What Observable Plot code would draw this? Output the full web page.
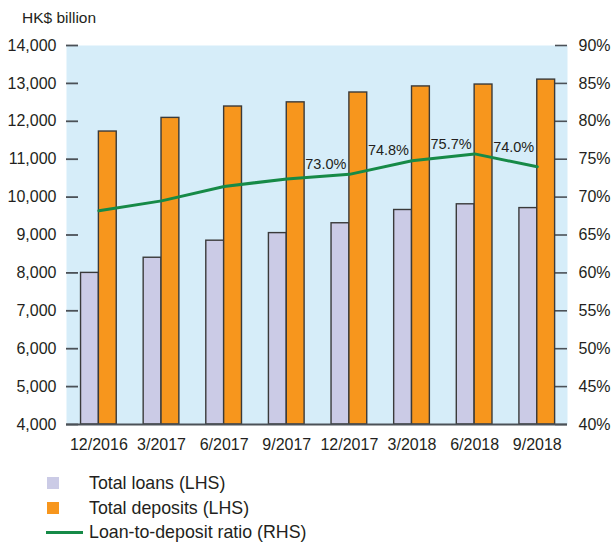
<!DOCTYPE html>
<html><head><meta charset="utf-8">
<script src="https://cdn.jsdelivr.net/npm/d3@7"></script>
<script src="https://cdn.jsdelivr.net/npm/@observablehq/plot@0.6"></script>
<style>
body{margin:0;background:#fff;font-family:"Liberation Sans",Arial,sans-serif;color:#231f20;width:614px;height:542px;position:relative;overflow:hidden}
#title{position:absolute;left:22px;top:8px;font-size:15.5px;line-height:20px}
#chart{position:absolute;left:0;top:30px}
.leg{position:absolute;left:89px;font-size:17.8px;line-height:20px}
.sw{position:absolute;left:47px;width:12px;height:12px}
.ln{position:absolute;left:46px;width:37px;height:3px}
</style></head>
<body>
<div id="title">HK$ billion</div>
<div id="chart"></div>
<div id="legend"></div>
<script>
const dates = ["12/2016","3/2017","6/2017","9/2017","12/2017","3/2018","6/2018","9/2018"];
const loans = [8000, 8400, 8850, 9050, 9310, 9660, 9810, 9710];
const deposits = [11730, 12090, 12390, 12500, 12760, 12920, 12970, 13100];
const ratio = [68.2, 69.5, 71.4, 72.4, 73.0, 74.8, 75.7, 74.0];
const ratioLabels = ["", "", "", "", "73.0%", "74.8%", "75.7%", "74.0%"];
const leftTicks = [4000,5000,6000,7000,8000,9000,10000,11000,12000,13000,14000];
const rightTickLabels = ["40%","45%","50%","55%","60%","65%","70%","75%","80%","85%","90%"];
const seriesNames = ["Total loans (LHS)","Total deposits (LHS)","Loan-to-deposit ratio (RHS)"];

const colors = {bg:"#d6edf9", loans:"#cbcbe6", deposits:"#f7961d", line:"#168a47", axis:"#4b5157"};
const rows = dates.map((d,i)=>({date:d, loans:loans[i], deposits:deposits[i], ratio:ratio[i], label:ratioLabels[i]}));
const toLeft = r => 4000 + (r - 40) * 200;

const W = 614, H = 430, mL = 66, mR = 47, mT = 15, mB = 36;
const innerW = W - mL - mR;
const tick = 12;
const pIn = 0.43, pOut = 0.215;
const step = innerW / (dates.length - pIn + 2 * pOut);
const bw = step * (1 - pIn);
const half = bw / 2;

const chart = Plot.plot({
  width: W, height: H,
  marginLeft: mL, marginRight: mR, marginTop: mT, marginBottom: mB,
  style: {fontFamily: '"Liberation Sans", Arial, sans-serif', fontSize: "16px", color: "#231f20", background: "transparent"},
  x: {type: "band", domain: dates, paddingInner: pIn, paddingOuter: pOut, align: 0.54, round: false, label: null},
  y: {domain: [4000, 14000], label: null},
  marks: [
    Plot.frame({fill: colors.bg, stroke: null}),
    Plot.ruleY(leftTicks, {y: d => d, insetRight: innerW - tick, stroke: colors.axis, strokeWidth: 1.8}),
    Plot.ruleY(leftTicks, {y: d => d, insetLeft: innerW - tick, stroke: colors.axis, strokeWidth: 1.6}),
    Plot.barY(rows, {x: "date", y1: 4000, y2: "loans", insetRight: half, fill: colors.loans, stroke: "#3a3a3a", strokeWidth: 1.4}),
    Plot.barY(rows, {x: "date", y1: 4000, y2: "deposits", insetLeft: half, fill: colors.deposits, stroke: "#3a3a3a", strokeWidth: 1.4}),
    Plot.line(rows, {x: "date", y: d => toLeft(d.ratio), stroke: colors.line, strokeWidth: 3}),
    Plot.text(rows.filter(d => d.label && d.date !== "9/2018"), {x: "date", y: d => toLeft(d.ratio), text: "label", textAnchor: "end", dx: -3, dy: -10, fontSize: 14.5, fill: "#231f20"}),
    Plot.text(rows.filter(d => d.date === "9/2018"), {x: "date", y: d => toLeft(d.ratio), text: "label", textAnchor: "end", dx: -3, dy: -19, fontSize: 14.5, fill: "#231f20"}),
    Plot.axisY(leftTicks, {anchor: "left", tickSize: 0, tickPadding: 10, tickFormat: d => d3.format(",")(d), fontSize: 16}),
    Plot.axisY(leftTicks, {anchor: "right", tickSize: 0, tickPadding: 11, tickFormat: d => rightTickLabels[leftTicks.indexOf(d)], fontSize: 16}),
    Plot.axisX({tickSize: 0, tickPadding: 14, fontSize: 16}),
    Plot.ruleX([0], {frameAnchor: "left", stroke: colors.axis, strokeWidth: 2.2}),
    Plot.ruleX([0], {frameAnchor: "right", stroke: colors.axis, strokeWidth: 1.6}),
    Plot.ruleY([4000], {stroke: colors.axis, strokeWidth: 2.2})
  ]
});
document.getElementById("chart").appendChild(chart);

const leg = document.getElementById("legend");
const items = [
  {type: "sw", color: colors.loans, y: 483},
  {type: "sw", color: colors.deposits, y: 508},
  {type: "ln", color: colors.line, y: 532}
];
items.forEach((it, i) => {
  const s = document.createElement("div");
  s.className = it.type;
  s.style.background = it.color;
  s.style.top = (it.y - (it.type === "sw" ? 6 : 1.5)) + "px";
  leg.appendChild(s);
  const t = document.createElement("div");
  t.className = "leg";
  t.style.top = (it.y - 10) + "px";
  t.textContent = seriesNames[i];
  leg.appendChild(t);
});
</script>
</body></html>
